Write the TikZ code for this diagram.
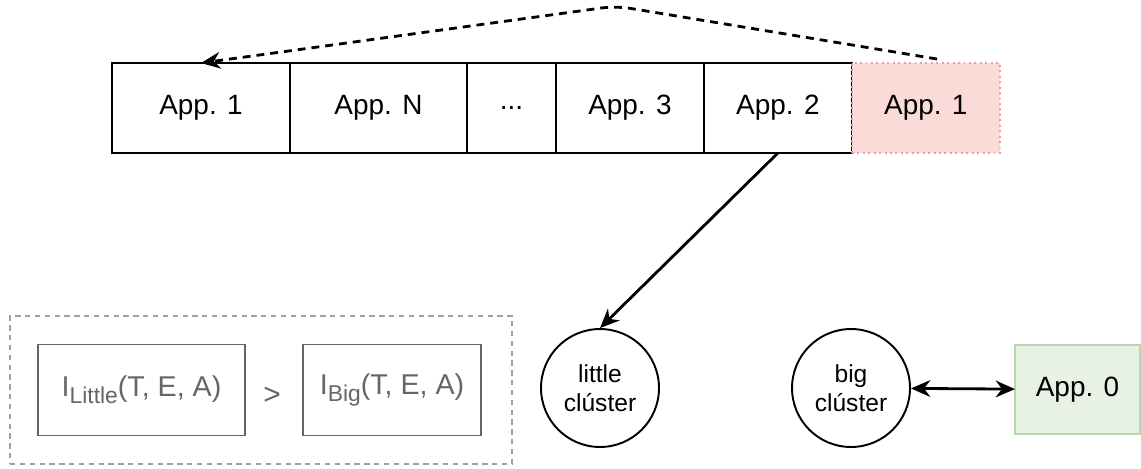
\documentclass[tikz,border=0pt]{standalone}
\usepackage{fontspec}
\setmainfont{Liberation Sans}
\usepackage{tikz}
\usetikzlibrary{positioning,arrows.meta}
\definecolor{nextfill}{HTML}{FADBD8}
\definecolor{nextline}{HTML}{E3A09D}
\definecolor{zerofill}{HTML}{E7F2E5}
\definecolor{zeroline}{HTML}{B7D6AC}
\definecolor{condgray}{HTML}{666666}
\definecolor{groupgray}{HTML}{A0A0A0}
\newcommand{\condsub}[1]{\raisebox{-0.45ex}{\fontsize{13}{15}\selectfont #1}}

\begin{document}
\begin{tikzpicture}[
  x=0.02cm, y=-0.02cm,
  node distance=0pt,
  every node/.style={font=\fontsize{15.9}{18}\selectfont},
  appbox/.style={draw, line width=1.1pt, minimum width=#1, minimum height=1.8cm,
                 inner sep=0pt, outer sep=0pt},
  cluster/.style={circle, draw, line width=1.1pt, minimum size=2.36cm, align=center,
                  inner sep=0pt, font=\fontsize{14}{16.5}\selectfont},
  condbox/.style={draw=condgray, line width=1.1pt, text=condgray, minimum width=#1,
                  minimum height=1.82cm, inner sep=0pt, font=\fontsize{16.3}{18}\selectfont},
  groupbox/.style={draw=groupgray, line width=0.9pt, dash pattern=on 3pt off 2.6pt,
                   minimum width=10.04cm, minimum height=2.96cm, inner sep=0pt},
  arr/.style={-{Stealth[length=11pt, width=9.5pt]}, line width=1.6pt},
  dblarr/.style={{Stealth[length=11pt, width=9.5pt]}-{Stealth[length=11pt, width=9.5pt]}, line width=1.6pt},
  dasharr/.style={-{Stealth[length=11pt, width=9.5pt]}, line width=1.6pt,
                  dash pattern=on 4.5pt off 3.4pt, rounded corners=8pt}]

\useasboundingbox (0,0) rectangle (1141,468);

%% Top row: queue of applications
\node[appbox=3.56cm]                 (first) at (201,108) {App. 1};
\node[appbox=3.54cm, right=of first] (appn)  {App. N};
\node[appbox=1.78cm, right=of appn]  (dots)  {...};
\node[appbox=2.96cm, right=of dots]  (app3)  {App. 3};
\node[appbox=2.96cm, right=of app3]  (app2)  {App. 2};
\node[appbox=2.96cm, right=of app2, draw=nextline, dotted, fill=nextfill] (next) {App. 1};

%% Bottom row: condition, clusters, running app
\node[groupbox] (cond) at (261,390) {};
\node[condbox=4.14cm] (ilittle) at (141.5,390) {I\condsub{Little}(T, E, A)};
\node[condbox=3.56cm] (ibig)    at (392,390)   {I\condsub{Big}(T, E, A)};
\node[text=condgray, font=\fontsize{17}{19}\selectfont] (gt) at (272,396) {>};

\node[cluster] (little) at (600,388) {little\\clúster};
\node[cluster] (big)    at (851,388) {big\\clúster};
\node[appbox=2.5cm, minimum height=1.78cm, draw=zeroline, fill=zerofill] (appzero) at (1077.5,389.5) {App. 0};

%% Arrows
\coordinate (tail) at (937,59);
\coordinate (peak) at (616,6);
\draw[dasharr] (tail) -- (peak) -- (first.north);
\draw[arr]    (app2.south) -- (little.north);
\draw[dblarr] (big) -- (appzero);
\end{tikzpicture}
\end{document}
